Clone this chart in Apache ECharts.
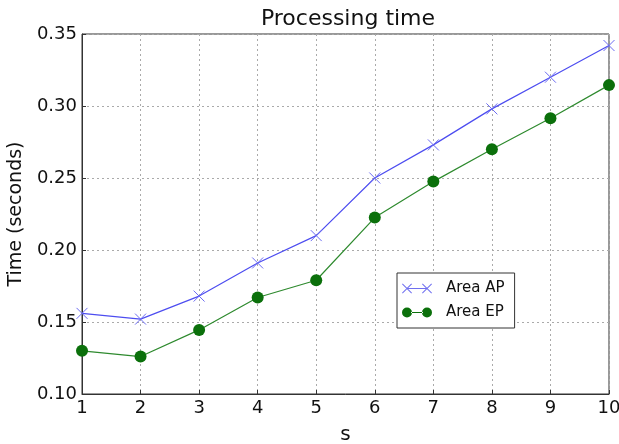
<!DOCTYPE html>
<html>
<head>
<meta charset="utf-8">
<script src="https://cdn.jsdelivr.net/npm/echarts@6/dist/echarts.min.js"></script>
<style>
  html, body { margin: 0; padding: 0; background: #fff; }
  #chart { width: 619px; height: 444px; }
</style>
</head>
<body>
<div id="chart"></div>
<script>
const sValues = [1, 2, 3, 4, 5, 6, 7, 8, 9, 10]
const areaAP = [0.156, 0.152, 0.168, 0.191, 0.210, 0.250, 0.273, 0.298, 0.320, 0.342]
const areaEP = [0.130, 0.126, 0.1445, 0.167, 0.179, 0.2225, 0.2475, 0.270, 0.2915, 0.3145]

const font = 'DejaVu Sans'
const crossPath = 'path://M0,0L10,10M10,0L0,10'
// legend icons: marker - line - marker, like matplotlib (filled shapes)
const apIcon = 'path://M0,0.7L0.7,0L10,9.3L9.3,10ZM9.3,0L10,0.7L0.7,10L0,9.3Z' +
  'M5,4.5L25,4.5L25,5.5L5,5.5Z' +
  'M20,0.7L20.7,0L30,9.3L29.3,10ZM29.3,0L30,0.7L20.7,10L20,9.3Z'
const epIcon = 'path://M0,5A5,5,0,1,0,10,5A5,5,0,1,0,0,5ZM20,5A5,5,0,1,0,30,5A5,5,0,1,0,20,5ZM9,4.4L21,4.4L21,5.6L9,5.6Z'
const pairs = vals => sValues.map((s, i) => [s, vals[i]])

const chart = echarts.init(document.getElementById('chart'))

chart.setOption({
  animation: false,
  title: {
    text: 'Processing time',
    left: 343,
    textAlign: 'center',
    top: 3,
    textStyle: { fontFamily: font, fontWeight: 'normal', fontSize: 22, color: '#111' }
  },
  grid: {
    left: 82, right: 10, top: 34, bottom: 50,
    outerBoundsMode: 'none',
    show: true, borderColor: '#333', borderWidth: 1
  },
  xAxis: {
    type: 'value',
    min: 1,
    max: 10,
    interval: 1,
    name: 's',
    nameLocation: 'middle',
    nameGap: 31,
    nameTextStyle: { fontFamily: font, fontSize: 20, color: '#111' },
    axisLine: { lineStyle: { color: '#333' } },
    axisTick: { inside: true, length: 4, lineStyle: { color: '#333' } },
    axisLabel: { fontFamily: font, fontSize: 18, color: '#111', margin: 5 },
    splitLine: { lineStyle: { type: [2, 3], color: '#aaa' } }
  },
  yAxis: {
    type: 'value',
    min: 0.10,
    max: 0.35,
    interval: 0.05,
    name: 'Time (seconds)',
    nameLocation: 'middle',
    nameGap: 54,
    nameTextStyle: { fontFamily: font, fontSize: 19, color: '#111' },
    axisLine: { show: true, lineStyle: { color: '#333' } },
    axisTick: { show: true, inside: true, length: 4, lineStyle: { color: '#333' } },
    axisLabel: { fontFamily: font, fontSize: 18, color: '#111', margin: 5, formatter: v => v.toFixed(2) },
    splitLine: { lineStyle: { type: [2, 3], color: '#aaa' } }
  },
  legend: {
    orient: 'vertical',
    left: 397,
    top: 273,
    padding: [8, 10, 8, 5],
    itemGap: 9,
    itemWidth: 30,
    itemHeight: 10,
    backgroundColor: '#fff',
    borderColor: '#333',
    borderWidth: 1,
    borderRadius: 0,
    textStyle: { fontFamily: font, fontSize: 15, color: '#111', padding: [0, 0, 0, 9] },
    data: [
      { name: 'Area AP', icon: apIcon, itemStyle: { color: '#7070f0', borderWidth: 0 } },
      { name: 'Area EP', icon: epIcon, itemStyle: { color: '#0b700b', borderWidth: 0 } }
    ]
  },
  series: [
    {
      name: 'Area AP',
      type: 'line',
      data: pairs(areaAP),
      symbol: crossPath,
      symbolSize: 11,
      lineStyle: { color: '#4d4df0', width: 1.2 },
      itemStyle: { color: 'rgba(0,0,0,0)', borderColor: '#6b6bf2', borderWidth: 1 },
      z: 3
    },
    {
      name: 'Area EP',
      type: 'line',
      data: pairs(areaEP),
      symbol: 'circle',
      symbolSize: 12,
      lineStyle: { color: '#2e8a2e', width: 1.2 },
      itemStyle: { color: '#0b700b', borderWidth: 0 },
      z: 2
    }
  ]
})
</script>
</body>
</html>
